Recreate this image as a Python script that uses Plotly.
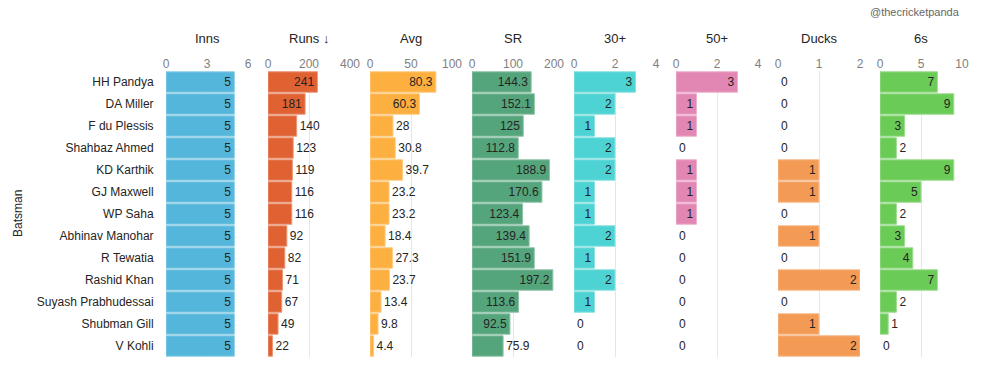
import plotly.graph_objects as go

batsmen = ["HH Pandya", "DA Miller", "F du Plessis", "Shahbaz Ahmed", "KD Karthik",
           "GJ Maxwell", "WP Saha", "Abhinav Manohar", "R Tewatia", "Rashid Khan",
           "Suyash Prabhudessai", "Shubman Gill", "V Kohli"]

inns = [5, 5, 5, 5, 5, 5, 5, 5, 5, 5, 5, 5, 5]
runs = [241, 181, 140, 123, 119, 116, 116, 92, 82, 71, 67, 49, 22]
avg = [80.3, 60.3, 28, 30.8, 39.7, 23.2, 23.2, 18.4, 27.3, 23.7, 13.4, 9.8, 4.4]
sr = [144.3, 152.1, 125, 112.8, 188.9, 170.6, 123.4, 139.4, 151.9, 197.2, 113.6, 92.5, 75.9]
thirties = [3, 2, 1, 2, 2, 1, 1, 2, 1, 2, 1, 0, 0]
fifties = [3, 1, 1, 0, 1, 1, 1, 0, 0, 0, 0, 0, 0]
ducks = [0, 0, 0, 0, 1, 1, 0, 1, 0, 2, 0, 1, 2]
sixes = [7, 9, 3, 2, 9, 5, 2, 3, 4, 7, 2, 1, 0]

panel_titles = ["Inns", "Runs ↓", "Avg", "SR", "30+", "50+", "Ducks", "6s"]
panel_values = [inns, runs, avg, sr, thirties, fifties, ducks, sixes]
panel_ranges = [6, 400, 100, 200, 4, 4, 2, 10]
panel_dticks = [3, 200, 50, 100, 2, 2, 1, 5]
panel_colors = ["#55B6DB", "#E06132", "#FDAF3F", "#55A57C", "#4DD3D3", "#E287B3", "#F39A55", "#6BCB57"]

W, H = 986, 373
PANEL_X0, PANEL_W, PANEL_STEP = 166, 82, 102
PLOT_TOP, PLOT_BOT = 71, 357
FONT = "Liberation Sans"


def lighten(hexc, f=0.35):
    h = hexc.lstrip("#")
    r, g, b = (int(h[i:i + 2], 16) for i in (0, 2, 4))
    r, g, b = (int(c + (255 - c) * f) for c in (r, g, b))
    return f"#{r:02X}{g:02X}{b:02X}"


def fmt(v):
    return str(int(v)) if float(v).is_integer() else f"{v:.1f}"


def text_w(s):
    return sum(3.3 if ch == "." else 6.7 for ch in s)


fig = go.Figure()
layout = dict(
    width=W, height=H,
    margin=dict(l=0, r=0, t=0, b=0, pad=0),
    paper_bgcolor="white", plot_bgcolor="white",
    showlegend=False,
    bargap=0.07,
    font=dict(family=FONT, size=12, color="#252423"),
    yaxis=dict(
        domain=[1 - PLOT_BOT / H, 1 - PLOT_TOP / H],
        categoryorder="array", categoryarray=batsmen,
        autorange="reversed",
        showgrid=False, zeroline=False, automargin=False,
        ticks="outside", ticklen=9, tickcolor="rgba(0,0,0,0)",
        tickfont=dict(size=12, color="#252423", family=FONT),
        anchor="x",
    ),
)
annotations = []

for k in range(8):
    vals = panel_values[k]
    rng = panel_ranges[k]
    labels = [fmt(v) for v in vals]
    positions = []
    for v, s in zip(vals, labels):
        bar_px = v / rng * PANEL_W
        positions.append("inside" if bar_px >= text_w(s) + 12 else "outside")
    line_w = [1 if v > 0 else 0 for v in vals]
    xname = "x" if k == 0 else f"x{k + 1}"
    fig.add_trace(go.Bar(
        y=batsmen, x=vals, orientation="h",
        xaxis=xname, yaxis="y",
        marker=dict(color=panel_colors[k],
                    line=dict(color=lighten(panel_colors[k]), width=line_w)),
        text=labels, textposition=positions,
        insidetextanchor="end",
        textfont=dict(size=12, color="#252423", family=FONT),
        constraintext="none",
        cliponaxis=False,
        hoverinfo="skip",
    ))
    x0 = (PANEL_X0 + PANEL_STEP * k) / W
    x1 = (PANEL_X0 + PANEL_STEP * k + PANEL_W) / W
    axkey = "xaxis" if k == 0 else f"xaxis{k + 1}"
    layout[axkey] = dict(
        domain=[x0, x1], range=[0, rng], anchor="y", side="top",
        dtick=panel_dticks[k], tick0=0, automargin=False,
        showgrid=True, gridcolor="#E6E6E6", gridwidth=1,
        zeroline=True, zerolinecolor="white", zerolinewidth=1,
        showline=False, ticks="",
        tickfont=dict(size=12, color="#808080", family=FONT),
        fixedrange=True,
    )
    annotations.append(dict(
        text=panel_titles[k], x=(x0 + x1) / 2, y=1 - 39 / H,
        xref="paper", yref="paper", showarrow=False,
        xanchor="center", yanchor="middle",
        font=dict(size=13, color="#252423", family=FONT),
    ))

annotations.append(dict(
    text="Batsman", x=18 / W, y=1 - 214 / H, xref="paper", yref="paper",
    showarrow=False, textangle=-90, xanchor="center", yanchor="middle",
    font=dict(size=12, color="#252423", family=FONT),
))
annotations.append(dict(
    text="@thecricketpanda", x=962 / W, y=1 - 12 / H, xref="paper", yref="paper",
    showarrow=False, xanchor="right", yanchor="middle",
    font=dict(size=11, color="#666666", family=FONT),
))
layout["annotations"] = annotations
fig.update_layout(**layout)
fig.write_html(
    "out.html",
    config={"displayModeBar": False, "staticPlot": True},
    post_script="document.body.style.margin='0';document.body.style.overflow='hidden';",
)
